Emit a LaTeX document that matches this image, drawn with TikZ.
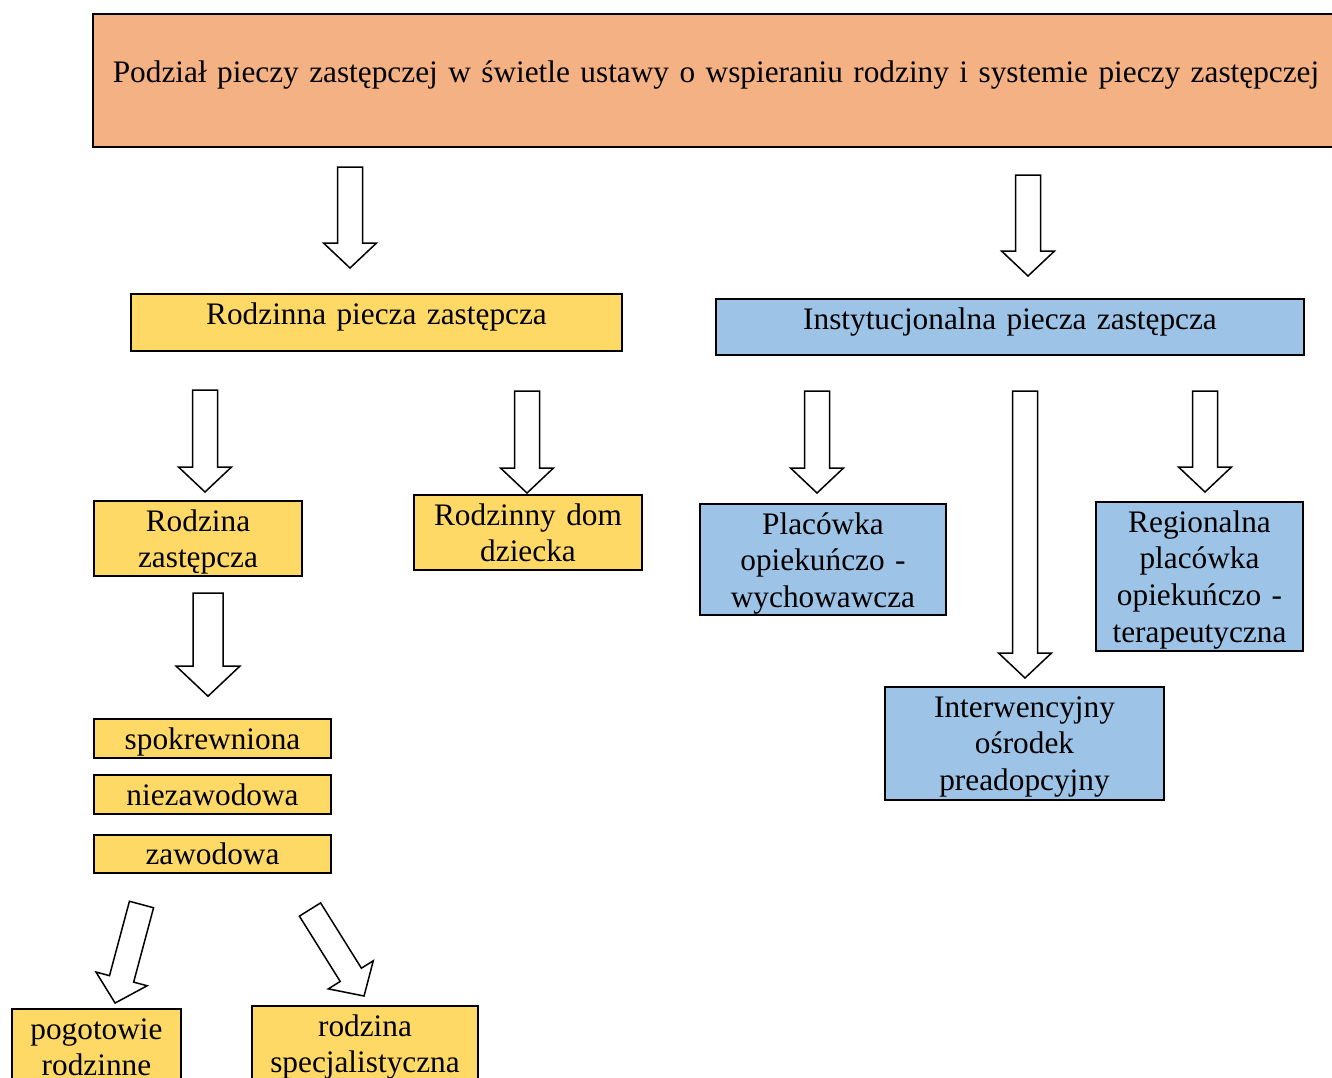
\documentclass[tikz,border=0pt]{standalone}
\usepackage{fontspec}
\setmainfont{Liberation Serif}
\usepackage{tikz}
\usetikzlibrary{positioning}

\definecolor{titlesalmon}{HTML}{F4B183}
\definecolor{rodzyellow}{HTML}{FFD966}
\definecolor{instblue}{HTML}{9DC3E6}

\tikzset{
  box/.style={draw, line width=2pt, anchor=north west, inner xsep=0pt, inner ysep=0pt,
    align=center, font=\fontsize{31.3}{36.8}\selectfont},
  dims/.style n args={3}{text width=#1, text height=#2, text depth=#3},
  rodz/.style={box, fill=rodzyellow},
  inst/.style={box, fill=instblue},
  arrowbody/.style={draw, line width=1.5pt, fill=white, line join=miter},
  pics/blockarrow/.style={code={
    \draw[arrowbody] (-12.5,0) -- (12.5,0) -- (12.5,#1-25) -- (26.5,#1-25) -- (0,#1)
      -- (-26.5,#1-25) -- (-12.5,#1-25) -- cycle;
  }}
}

\begin{document}
\begin{tikzpicture}[x=1pt,y=-1pt]
  \useasboundingbox (0,0) rectangle (1332,1077);

  % tytul
  \node[box, fill=titlesalmon, dims={1246pt}{68pt}{65pt}] (podzial) at (92,13)
    {Podział pieczy zastępczej w świetle ustawy o wspieraniu rodziny i systemie pieczy zastępczej};

  % dwa rodzaje pieczy
  \node[rodz, dims={491pt}{30pt}{27pt}] (rodzinna) at (130,293) {Rodzinna piecza zastępcza};
  \node[inst, dims={588pt}{30pt}{26pt}] (instytucjonalna) at (715,298) {Instytucjonalna piecza zastępcza};

  % piecza rodzinna
  \node[rodz, dims={208pt}{30pt}{45pt}] (rodzina_z) at (93,500) {Rodzina\\zastępcza};
  \node[rodz, dims={228pt}{30pt}{45pt}] (dom) at (413,494) {Rodzinny dom\\dziecka};
  \node[rodz, dims={237pt}{30pt}{9pt}] (spokrewniona) at (93,718) {spokrewniona};
  \node[rodz, dims={237pt}{30pt}{9pt}] (niezawodowa) at (93,774) {niezawodowa};
  \node[rodz, dims={237pt}{29pt}{9pt}] (zawodowa) at (93,834) {zawodowa};
  \node[rodz, dims={169pt}{30pt}{72pt}] (pogotowie) at (11,1008) {pogotowie\\rodzinne};
  \node[rodz, dims={226pt}{30pt}{75pt}] (specjalistyczna) at (251,1005) {rodzina\\specjalistyczna};

  % piecza instytucjonalna
  \node[inst, dims={246pt}{30pt}{81pt}] (placowka) at (699,503) {Placówka\\opiekuńczo -\\wychowawcza};
  \node[inst, dims={207pt}{30pt}{119pt}] (regionalna) at (1095,501) {Regionalna\\placówka\\opiekuńczo -\\terapeutyczna};
  \node[inst, dims={279pt}{30pt}{83pt}] (interwencyjny) at (884,686) {Interwencyjny\\ośrodek\\preadopcyjny};

  % strzalki
  \pic at (350,167) {blockarrow=101};
  \pic at (1028,175) {blockarrow=101};
  \pic at (205,390) {blockarrow=102};
  \pic at (527,391) {blockarrow=102};
  \pic at (817,391) {blockarrow=102};
  \pic at (1025,391) {blockarrow=287};
  \pic at (1205,391) {blockarrow=101};
  \pic[scale=1.2] at (208,593) {blockarrow=86};
  \pic[rotate=-15] at (141.5,904.5) {blockarrow=102};
  \pic[rotate=32] at (310,909.5) {blockarrow=102};
\end{tikzpicture}
\end{document}
